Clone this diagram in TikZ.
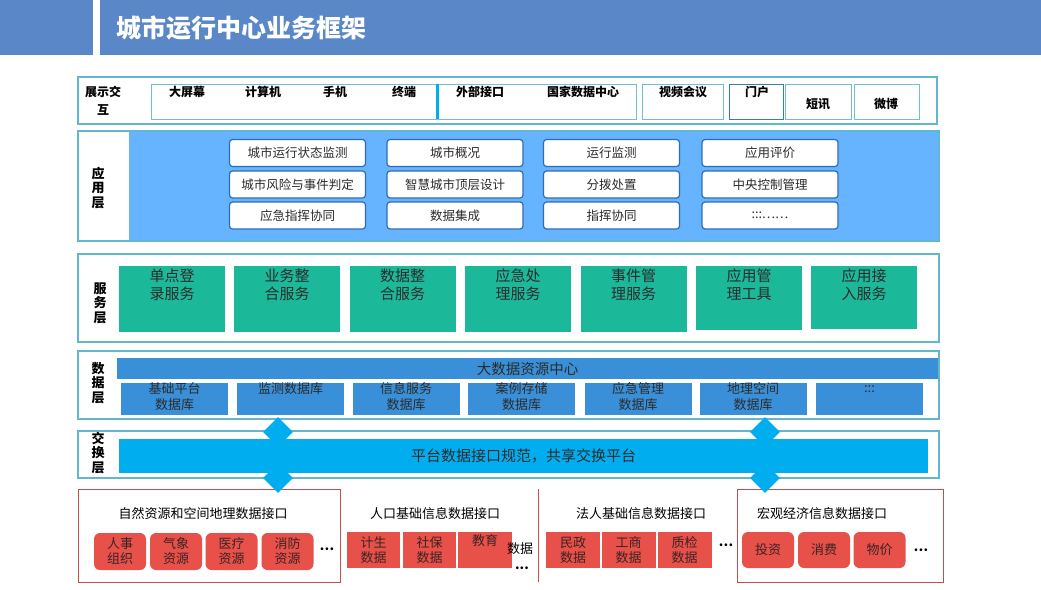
\documentclass[tikz,border=0pt]{standalone}
\usepackage{fontspec}
\setmainfont{Noto Sans CJK SC}
\usetikzlibrary{shapes.geometric}
\definecolor{ttlBlue} {HTML}{5A87C8}
\definecolor{layLine} {HTML}{62B7CE}
\definecolor{devLine} {HTML}{6FC0D2}
\definecolor{devDark} {HTML}{31849B}
\definecolor{appFill} {HTML}{66B3FF}
\definecolor{appLine} {HTML}{2E6DB4}
\definecolor{svcFill} {HTML}{1BB99A}
\definecolor{dbFill}  {HTML}{3A90D8}
\definecolor{xchFill} {HTML}{00AEEF}
\definecolor{srcFill} {HTML}{E8504A}
\definecolor{srcLine} {HTML}{C0504D}
\definecolor{txtDark} {HTML}{2B2B2B}
\definecolor{srcTxt}  {HTML}{3A2424}

\begin{document}
\begin{tikzpicture}[x=1pt,y=-1pt,
          ttl/.style={fill=ttlBlue,minimum height=55pt,inner sep=0},
          lay/.style={draw=layLine,line width=1.2pt,inner sep=0},
          lbl/.style={inner sep=0,align=center,font=\bfseries\fontsize{13}{14.5}\selectfont},
          dev/.style={draw=devLine,line width=1pt,fill=white,minimum height=35pt,inner sep=0},
          devTxt/.style={inner sep=0,font=\bfseries\fontsize{12}{14}\selectfont},
          app/.style={draw=appLine,fill=white,line width=1.2pt,rounded corners=3pt,
                      minimum width=136pt,minimum height=27pt,inner sep=0,
                      font=\fontsize{12.5}{14}\selectfont,text=txtDark},
          svc/.style={fill=svcFill,minimum width=106pt,minimum height=66pt,inner sep=0},
          svcTxt/.style={inner sep=0,align=center,text=txtDark,font=\fontsize{15}{18}\selectfont},
          db/.style={fill=dbFill,minimum width=107pt,minimum height=32pt,inner sep=0},
          dbTxt/.style={inner sep=0,align=center,text=txtDark,font=\fontsize{13}{16}\selectfont},
          dia/.style={diamond,fill=xchFill,minimum width=30pt,minimum height=30pt,inner sep=0},
          srcOut/.style={draw=srcLine,line width=1pt,minimum height=93pt,inner sep=0},
          srcHd/.style={inner sep=0,text=black,font=\fontsize{13}{15}\selectfont},
          src/.style={fill=srcFill,minimum width=53pt,minimum height=36pt,inner sep=0,
                      align=center,text=srcTxt,font=\fontsize{13}{15}\selectfont},
          srcR/.style={src,rounded corners=6pt,minimum height=37pt},
          dots/.style={inner sep=0,font=\bfseries\fontsize{13}{15}\selectfont}]
        \useasboundingbox (0,0) rectangle (1041,589);

        % title bar
        \node[ttl,minimum width=93pt] (ttlL) at (46.5,27.5) {};
        \node[ttl,minimum width=941pt] (ttlR) at (570.5,27.5) {};
        \node[anchor=west,inner sep=0,text=white,font=\bfseries\fontsize{25}{28}\selectfont] (ttlT) at (116,28) {城市运行中心业务框架};

        % display layer
        \node[lay,minimum width=859pt,minimum height=47pt] (showL) at (507.5,100.5) {};
        \node[lbl,font=\bfseries\fontsize{12}{18}\selectfont] (showT) at (103,101) {展示交\\互};
        \node[dev,minimum width=485pt] (devBox) at (393.5,101.5) {};
        \draw[xchFill,line width=3pt] (437,84) -- (437,119);
        \node[dev,minimum width=81pt] (vidBox) at (682.5,101.5) {};
        \node[dev,draw=devDark,minimum width=54pt] (webBox) at (756,101.5) {};
        \node[dev,minimum width=66pt] (smsBox) at (818,101.5) {};
        \node[dev,minimum width=65pt] (wbBox) at (886.5,101.5) {};
        \node[devTxt] (d1) at (187,92) {大屏幕};
        \node[devTxt] (d2) at (263,92) {计算机};
        \node[devTxt] (d3) at (335,92) {手机};
        \node[devTxt] (d4) at (404,92) {终端};
        \node[devTxt] (d5) at (480,92) {外部接口};
        \node[devTxt] (d6) at (583,92) {国家数据中心};
        \node[devTxt] (d7) at (683,92) {视频会议};
        \node[devTxt] (d8) at (757,92) {门户};
        \node[devTxt] (d9) at (818,104) {短讯};
        \node[devTxt] (d10) at (886,104) {微博};

        % application layer
        \node[fill=appFill,minimum width=810pt,minimum height=110pt,inner sep=0] (appBg) at (534,186) {};
        \node[lay,minimum width=861pt,minimum height=110pt] (appL) at (508.5,186) {};
        \node[lbl] (appT) at (98,188) {应\\用\\层};
        \node[app] (a11) at (297.5,153) {城市运行状态监测};
        \node[app] (a12) at (297.5,184.5) {城市风险与事件判定};
        \node[app] (a13) at (297.5,215.5) {应急指挥协同};
        \node[app] (a21) at (455,153) {城市概况};
        \node[app] (a22) at (455,184.5) {智慧城市顶层设计};
        \node[app] (a23) at (455,215.5) {数据集成};
        \node[app] (a31) at (611.5,153) {运行监测};
        \node[app] (a32) at (611.5,184.5) {分拨处置};
        \node[app] (a33) at (611.5,215.5) {指挥协同};
        \node[app] (a41) at (770,153) {应用评价};
        \node[app] (a42) at (770,184.5) {中央控制管理};
        \node[app] (a43) at (770,215.5) {:::……};

        % service layer
        \node[lay,minimum width=861pt,minimum height=88pt] (svcL) at (508.5,298) {};
        \node[lbl] (svcT) at (100,303) {服\\务\\层};
        \node[svc] (s1) at (172,299) {};
        \node[svc] (s2) at (287,299) {};
        \node[svc] (s3) at (402.5,299) {};
        \node[svc] (s4) at (518,299) {};
        \node[svc] (s5) at (633.5,299) {};
        \node[svc,minimum height=64pt] (s6) at (749,298) {};
        \node[svc,minimum height=63pt] (s7) at (864,297.5) {};
        \node[svcTxt] (s1t) at (172,285) {单点登\\录服务};
        \node[svcTxt] (s2t) at (287,285) {业务整\\合服务};
        \node[svcTxt] (s3t) at (402.5,285) {数据整\\合服务};
        \node[svcTxt] (s4t) at (518,285) {应急处\\理服务};
        \node[svcTxt] (s5t) at (633.5,285) {事件管\\理服务};
        \node[svcTxt] (s6t) at (749,285) {应用管\\理工具};
        \node[svcTxt] (s7t) at (864,285) {应用接\\入服务};

        % data layer
        \node[lay,minimum width=861pt,minimum height=68pt] (dbL) at (508.5,385) {};
        \node[lbl] (dbT) at (98,383) {数\\据\\层};
        \node[fill=dbFill,minimum width=821pt,minimum height=21pt,inner sep=0,text=txtDark,
              font=\fontsize{14.5}{16}\selectfont] (big) at (527.5,368.5) {大数据资源中心};
        \node[db] (b1) at (174.5,399) {};
        \node[db] (b2) at (290.5,399) {};
        \node[db] (b3) at (406,399) {};
        \node[db] (b4) at (521.5,399) {};
        \node[db] (b5) at (638,399) {};
        \node[db] (b6) at (753,399) {};
        \node[db] (b7) at (869.5,399) {};
        \node[dbTxt] (b1t) at (174.5,397) {基础平台\\数据库};
        \node[dbTxt] (b2t) at (290.5,389) {监测数据库};
        \node[dbTxt] (b3t) at (406,397) {信息服务\\数据库};
        \node[dbTxt] (b4t) at (521.5,397) {案例存储\\数据库};
        \node[dbTxt] (b5t) at (638,397) {应急管理\\数据库};
        \node[dbTxt] (b6t) at (753,397) {地理空间\\数据库};
        \node[dbTxt] (b7t) at (869.5,389) {:::};

        % exchange layer
        \node[lay,minimum width=861pt,minimum height=47pt] (xchL) at (508.5,454.5) {};
        \node[lbl] (xchT) at (98,453) {交\\换\\层};

        % source interfaces
        \node[srcOut,minimum width=262pt] (natOut) at (209,535.5) {};
        \node[srcOut,minimum width=206pt] (ecoOut) at (840,535.5) {};
        \draw[srcLine,line width=1pt] (538,489) -- (538,582);
        \node[srcHd] (natH) at (203,514) {自然资源和空间地理数据接口};
        \node[srcHd] (popH) at (435,514) {人口基础信息数据接口};
        \node[srcHd] (corH) at (641,514) {法人基础信息数据接口};
        \node[srcHd] (ecoH) at (822,514) {宏观经济信息数据接口};
        \node[srcR,minimum width=52pt] (n1) at (120,551.5) {人事\\组织};
        \node[srcR,minimum width=52pt] (n2) at (176,551.5) {气象\\资源};
        \node[srcR,minimum width=52pt] (n3) at (231.5,551.5) {医疗\\资源};
        \node[srcR,minimum width=52pt] (n4) at (287.5,551.5) {消防\\资源};
        \node[dots] (nD) at (327,549) {…};
        \node[src] (p1) at (373.5,550) {计生\\数据};
        \node[src] (p2) at (429.5,550) {社保\\数据};
        \node[src,minimum width=54pt] (p3) at (485,550) {};
        \node[inner sep=0,text=srcTxt,font=\fontsize{13}{15}\selectfont] (p3t) at (485,541) {教育};
        \node[inner sep=0,text=black,font=\fontsize{13}{15}\selectfont] (p3x) at (520,549) {数据};
        \node[dots] (pD) at (522,568) {...};
        \node[src,minimum width=54pt] (c1) at (573,550) {民政\\数据};
        \node[src,minimum width=54pt] (c2) at (628.5,550) {工商\\数据};
        \node[src,minimum width=54pt] (c3) at (684.5,550) {质检\\数据};
        \node[dots] (cD) at (726,545) {…};
        \node[srcR,minimum width=52pt,minimum height=36pt] (e1) at (768,550) {投资};
        \node[srcR,minimum width=52pt,minimum height=36pt] (e2) at (824,550) {消费};
        \node[srcR,minimum width=52pt,minimum height=36pt] (e3) at (879.5,550) {物价};
        \node[dots] (eD) at (921,550) {…};

        % exchange links and bar
        \node[dia] (dm1) at (278,432) {};
        \node[dia] (dm2) at (765,432) {};
        \node[dia] (dm3) at (278,478) {};
        \node[dia] (dm4) at (765,478) {};
        \node[fill=xchFill,minimum width=809pt,minimum height=34pt,inner sep=0,text=txtDark,
              font=\fontsize{15}{17}\selectfont] (xchBar) at (523.5,456) {平台数据接口规范，共享交换平台};
      \end{tikzpicture}
\end{document}
